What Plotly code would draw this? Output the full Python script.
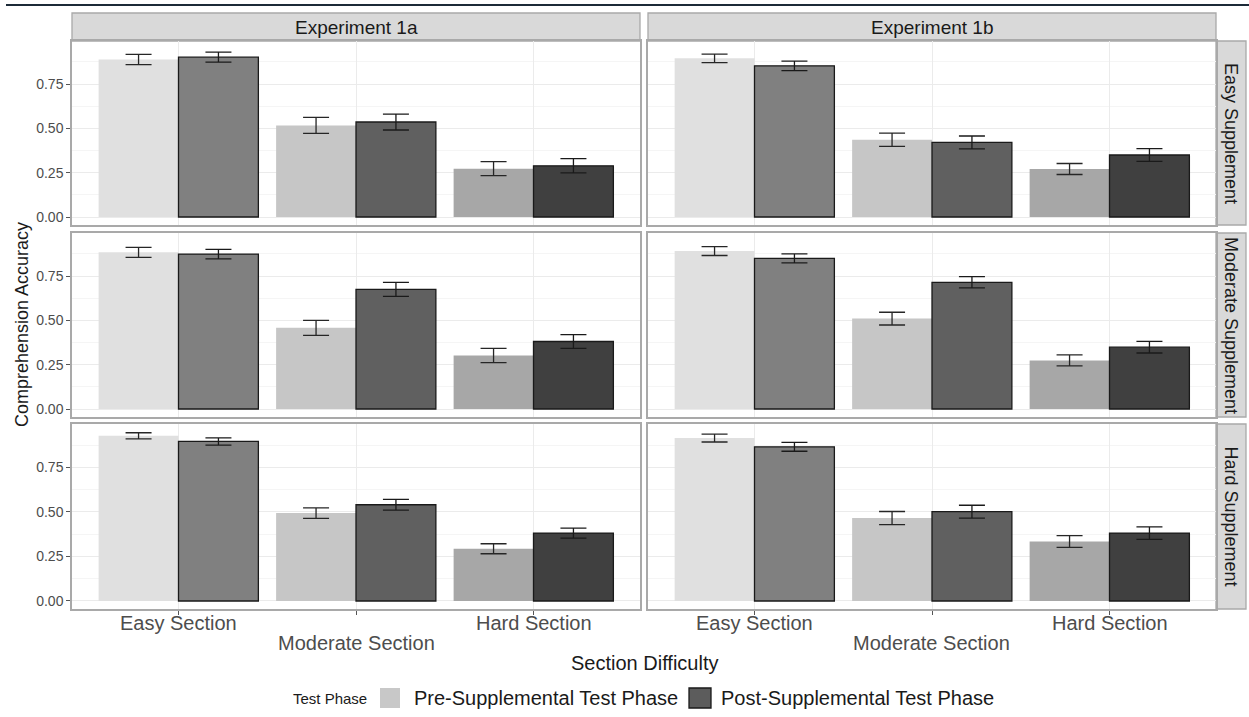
import plotly.graph_objects as go

W, H = 1249, 717

sections = ["Easy Section", "Moderate Section", "Hard Section"]
experiments = ["Experiment 1a", "Experiment 1b"]
supplements = ["Easy Supplement", "Moderate Supplement", "Hard Supplement"]
phases = ["Pre-Supplemental Test Phase", "Post-Supplemental Test Phase"]

# mean accuracy per supplement row (Easy, Moderate, Hard) x section
pre_mean_1a = [[0.889, 0.517, 0.273],
               [0.884, 0.458, 0.302],
               [0.927, 0.493, 0.293]]
pre_err_1a = [[0.029, 0.045, 0.040],
              [0.028, 0.042, 0.040],
              [0.017, 0.029, 0.028]]
post_mean_1a = [[0.902, 0.536, 0.289],
                [0.874, 0.675, 0.381],
                [0.895, 0.540, 0.381]]
post_err_1a = [[0.028, 0.045, 0.040],
               [0.027, 0.039, 0.039],
               [0.020, 0.030, 0.028]]

pre_mean_1b = [[0.895, 0.436, 0.271],
               [0.891, 0.510, 0.274],
               [0.914, 0.465, 0.334]]
pre_err_1b = [[0.024, 0.037, 0.031],
              [0.025, 0.036, 0.031],
              [0.022, 0.037, 0.033]]
post_mean_1b = [[0.853, 0.421, 0.350],
                [0.850, 0.715, 0.349],
                [0.865, 0.501, 0.381]]
post_err_1b = [[0.027, 0.036, 0.036],
                [0.025, 0.032, 0.033],
                [0.025, 0.036, 0.035]]

y_ticks = [0.0, 0.25, 0.5, 0.75]
y_ticktext = ["0.00", "0.25", "0.50", "0.75"]

# fills per section, lighter for the pre phase
pre_fill = ["#e0e0e0", "#c6c6c6", "#a7a7a7"]
post_fill = ["#808080", "#606060", "#404040"]
legend_fill = ["#c8c8c8", "#5c5c5c"]

FONT = "Liberation Sans, Arial, sans-serif"
TICK_GREY = "#4d4d4d"
BORDER = "#a9a9a9"


def px_x(p):
    return p / W


def px_y(p):
    return 1 - p / H


col_px = [(72, 640), (648, 1216)]
row_px = [(41, 225), (233, 417), (424, 609)]

data = {
    0: (pre_mean_1a, pre_err_1a, post_mean_1a, post_err_1a),
    1: (pre_mean_1b, pre_err_1b, post_mean_1b, post_err_1b),
}

fig = go.Figure()
layout = dict(
    width=W, height=H,
    margin=dict(l=0, r=0, t=0, b=0),
    paper_bgcolor="white", plot_bgcolor="white",
    barmode="group", bargap=0.1, bargroupgap=0.0,
    showlegend=False,
    font=dict(family=FONT, color="#1a1a1a"),
)
shapes = []
annotations = []

for r in range(3):
    for c in range(2):
        k = r * 2 + c + 1
        xa = "x" if k == 1 else f"x{k}"
        ya = "y" if k == 1 else f"y{k}"
        pm, pe, qm, qe = data[c]
        fig.add_trace(go.Bar(
            x=sections, y=pm[r], name=phases[0], xaxis=xa, yaxis=ya,
            marker=dict(color=pre_fill, line=dict(width=0)),
            error_y=dict(type="data", array=pe[r], color="#262626",
                         thickness=1.3, width=13),
            offsetgroup="pre",
        ))
        fig.add_trace(go.Bar(
            x=sections, y=qm[r], name=phases[1], xaxis=xa, yaxis=ya,
            marker=dict(color=post_fill, line=dict(width=1.3, color="#1a1a1a")),
            error_y=dict(type="data", array=qe[r], color="#1a1a1a",
                         thickness=1.3, width=13),
            offsetgroup="post",
        ))
        x0, x1 = col_px[c]
        y0, y1 = row_px[r]
        bottom = r == 2
        left = c == 0
        layout["xaxis" if k == 1 else f"xaxis{k}"] = dict(
            domain=[px_x(x0), px_x(x1)], anchor=ya,
            type="category", categoryorder="array", categoryarray=sections,
            range=[-0.6, 2.6],
            showgrid=True, gridcolor="#ebebeb", gridwidth=1,
            showline=True, mirror=True, linecolor=BORDER, linewidth=1.5,
            ticks="outside" if bottom else "", ticklen=4, tickcolor="#555555",
            showticklabels=False, zeroline=False,
        )
        layout["yaxis" if k == 1 else f"yaxis{k}"] = dict(
            domain=[px_y(y1), px_y(y0)], anchor=xa,
            range=[-0.045, 0.993],
            tickvals=y_ticks, ticktext=y_ticktext,
            showticklabels=left,
            tickfont=dict(size=14, color=TICK_GREY),
            ticks="outside" if left else "", ticklen=4, tickcolor="#555555",
            showgrid=True, gridcolor="#ebebeb", gridwidth=1.1,
            minor=dict(tickvals=[0.125, 0.375, 0.625, 0.875], showgrid=True,
                       gridcolor="#f5f5f5", gridwidth=1, ticks=""),
            showline=True, mirror=True, linecolor=BORDER, linewidth=1.5,
            zeroline=False,
        )
        if bottom:
            for i, s in enumerate(sections):
                annotations.append(dict(
                    x=s, xref=xa, y=px_y(623 if i != 1 else 643), yref="paper",
                    text=s, showarrow=False, xanchor="center", yanchor="middle",
                    font=dict(size=20, color=TICK_GREY),
                ))

# column strips
for c, name in enumerate(experiments):
    x0, x1 = col_px[c]
    shapes.append(dict(type="rect", xref="paper", yref="paper",
                       x0=px_x(x0), x1=px_x(x1), y0=px_y(41), y1=px_y(13),
                       fillcolor="#d9d9d9", line=dict(color=BORDER, width=1.3),
                       layer="below"))
    annotations.append(dict(x=px_x((x0 + x1) / 2), y=px_y(27), xref="paper",
                            yref="paper", text=name, showarrow=False,
                            font=dict(size=19, color="#1a1a1a"),
                            xanchor="center", yanchor="middle"))

# row strips
for r, name in enumerate(supplements):
    y0, y1 = row_px[r]
    shapes.append(dict(type="rect", xref="paper", yref="paper",
                       x0=px_x(1216), x1=px_x(1246), y0=px_y(y1), y1=px_y(y0),
                       fillcolor="#d9d9d9", line=dict(color=BORDER, width=1.3),
                       layer="below"))
    annotations.append(dict(x=px_x(1231), y=px_y((y0 + y1) / 2), xref="paper",
                            yref="paper", text=name, showarrow=False,
                            textangle=90, font=dict(size=18, color="#1a1a1a"),
                            xanchor="center", yanchor="middle"))

# rule across the top
shapes.append(dict(type="line", xref="paper", yref="paper",
                   x0=px_x(6), x1=1, y0=px_y(5), y1=px_y(5),
                   line=dict(color="#1c2a38", width=2)))

# axis titles
annotations.append(dict(x=px_x(644), y=px_y(663), xref="paper", yref="paper",
                        text="Section Difficulty", showarrow=False,
                        font=dict(size=20, color="#1a1a1a"),
                        xanchor="center", yanchor="middle"))
annotations.append(dict(x=px_x(22), y=px_y(325), xref="paper", yref="paper",
                        text="Comprehension Accuracy", showarrow=False,
                        textangle=-90, font=dict(size=18, color="#1a1a1a"),
                        xanchor="center", yanchor="middle"))

# legend
ly = 698
annotations.append(dict(x=px_x(369), y=px_y(ly), xref="paper", yref="paper",
                        text="Test Phase", showarrow=False,
                        font=dict(size=15, color="#1a1a1a"),
                        xanchor="right", yanchor="middle"))
key_x = [(380, 400), (689, 711)]
text_x = [412, 719]
for i, ph in enumerate(phases):
    kx0, kx1 = key_x[i]
    shapes.append(dict(type="rect", xref="paper", yref="paper",
                       x0=px_x(kx0), x1=px_x(kx1), y0=px_y(ly + 10), y1=px_y(ly - 10),
                       fillcolor=legend_fill[i],
                       line=dict(color="#1a1a1a" if i == 1 else legend_fill[i],
                                 width=1.3 if i == 1 else 0)))
    annotations.append(dict(x=px_x(text_x[i]), y=px_y(ly), xref="paper",
                            yref="paper", text=ph, showarrow=False,
                            font=dict(size=20, color="#1a1a1a"),
                            xanchor="left", yanchor="middle"))

layout["shapes"] = shapes
layout["annotations"] = annotations
fig.update_layout(**layout)

fig.write_html("out.html")
